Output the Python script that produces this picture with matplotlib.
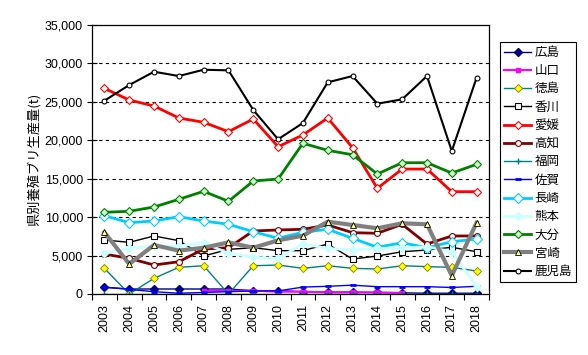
import numpy as np
import matplotlib
matplotlib.use("Agg")
import matplotlib.pyplot as plt
from matplotlib.ticker import FuncFormatter, MultipleLocator

plt.rcParams['font.family'] = ['Noto Sans CJK JP', 'DejaVu Sans']

years = [str(y) for y in range(2003, 2019)]
nan = np.nan

# 県別養殖ブリ生産量 (t)
hiroshima = [870, 650, 650, 650, 650, 650, 430, 430, 300, 250, 250, 200, 150, 100, 100, 100]
yamaguchi = [nan, nan, nan, nan, 430, 400, 430, 300, 300, 200, 200, 200, 150, nan, nan, nan]
tokushima = [3340, 0, 2040, 3470, 3680, 0, 3680, 3770, 3340, 3680, 3340, 3250, 3680, 3560, 3470, 2990]
kagawa = [7030, 6720, 7550, 6940, 4940, 5810, 6020, 5640, 5640, 6500, 4550, 4940, 5500, 5720, 6080, 5500]
ehime = [26760, 25240, 24460, 22900, 22340, 21120, 22770, 19160, 20690, 22900, 19040, 13750, 16260, 16260, 13310, 13310]
kochi = [5200, 4640, 3770, 4200, 5850, 6020, 8200, 8330, 8420, 8980, 7980, 7900, 9070, 6500, 7550, 7550]
fukuoka = [50, 50, 50, 50, 50, 50, 50, 50, 50, 50, 50, 50, 50, 50, 50, 50]
saga = [900, 600, 300, 100, 200, 300, 400, 400, 900, 1000, 1150, 950, 950, 950, 850, 1000]
nagasaki = [10190, 9280, 9500, 10060, 9500, 9070, 8110, 7250, 8030, 8420, 7250, 6080, 6670, 6020, 6800, 7160]
kumamoto = [5290, 5940, 6240, 6240, 6670, 5290, 4770, 4640, 6500, 5940, 5720, 5940, 5940, 6160, 5500, 950]
oita = [10630, 10760, 11320, 12320, 13360, 12060, 14700, 14960, 19610, 18690, 18120, 15610, 17080, 17080, 15740, 16870]
miyazaki = [8030, 3900, 6370, 5640, 6020, 6720, 6020, 6980, 7590, 9410, 8980, 8550, 9200, 9070, 2380, 9280]
kagoshima = [25150, 27190, 28920, 28360, 29180, 29100, 23940, 20130, 22250, 27540, 28360, 24760, 25330, 28360, 18600, 28140]

fig = plt.figure(figsize=(5.88, 3.55), dpi=100)
ax = fig.add_axes([92 / 588, 61 / 355, 397 / 588, 269 / 355])
x = np.arange(len(years))

ax.plot(x, hiroshima, color='#000080', lw=1, marker='D', ms=4, mfc='#000080', mec='#000080', label='広島')
ax.plot(x, yamaguchi, color='#FF00FF', lw=1.5, marker='s', ms=3.5, mfc='#FF00FF', mec='#FF00FF', label='山口')
ax.plot(x, tokushima, color='#008080', lw=1, marker='D', ms=4.5, mfc='#FFFF00', mec='#808000', mew=0.6, label='徳島')
ax.plot(x, kagawa, color='black', lw=1, marker='s', ms=4.2, mfc='white', mec='black', mew=0.8, label='香川')
ax.plot(x, ehime, color='#FF0000', lw=2, marker='D', ms=4.5, mfc='white', mec='#FF0000', mew=0.8, label='愛媛')
ax.plot(x, kochi, color='#800000', lw=2, marker='o', ms=4.2, mfc='white', mec='#800000', mew=0.8, label='高知')
ax.plot(x, fukuoka, color='#008080', lw=1, marker='+', ms=4.5, label='福岡')
ax.plot(x, saga, color='#0000FF', lw=1, marker='_', ms=4, mew=2, label='佐賀')
ax.plot(x, nagasaki, color='#00CCFF', lw=2, marker='D', ms=5.5, mfc='white', mec='#00CCFF', mew=0.8, label='長崎')
ax.plot(x, kumamoto, color='#CCFFFF', lw=2, marker='D', ms=4.5, mfc='#CCFFFF', mec='#CCFFFF', label='熊本')
ax.plot(x, oita, color='#008000', lw=2, marker='D', ms=4.5, mfc='#CCFFCC', mec='#008000', mew=0.8, label='大分')
ax.plot(x, miyazaki, color='#808080', lw=3, marker='^', ms=5, mfc='#FFFF99', mec='black', mew=0.6, label='宮崎')
ax.plot(x, kagoshima, color='black', lw=1.5, marker='o', ms=3.5, mfc='white', mec='black', mew=0.8, label='鹿児島')

ax.set_xlim(-0.5, len(years) - 0.5)
ax.set_ylim(0, 35000)
ax.yaxis.set_major_locator(MultipleLocator(5000))
ax.yaxis.set_major_formatter(FuncFormatter(lambda v, p: f'{int(v):,}'))
ax.set_xticks(x)
ax.set_xticklabels(years, rotation=90, family=['Liberation Sans', 'DejaVu Sans'], fontsize=9)
ax.set_xticks(np.arange(-0.5, len(years)), minor=True)
ax.tick_params(axis='x', which='major', length=0, pad=7)
ax.tick_params(axis='x', which='minor', direction='out', length=4, width=0.8)
ax.tick_params(axis='y', direction='inout', length=7, width=0.8, labelsize=9, pad=3)
for lab in ax.get_yticklabels():
    lab.set_family(['Liberation Sans', 'DejaVu Sans'])
for v in range(5000, 35000, 5000):
    ax.axhline(v, color='black', lw=0.8, ls=(0, (3, 3)), zorder=0)
for s in ax.spines.values():
    s.set_linewidth(0.9)

ax.set_ylabel('県別養殖ブリ生産量(t)', fontsize=9.5, labelpad=3)

leg = fig.legend(loc='upper left', bbox_to_anchor=(497 / 588, 1 - 39 / 355), fontsize=9,
                 frameon=True, fancybox=False, edgecolor='black', framealpha=1,
                 handlelength=2.2, labelspacing=0.42, borderpad=0.35, handletextpad=0.25,
                 borderaxespad=0.2)
leg.get_frame().set_linewidth(0.8)

fig.savefig('out.png', dpi=100)
